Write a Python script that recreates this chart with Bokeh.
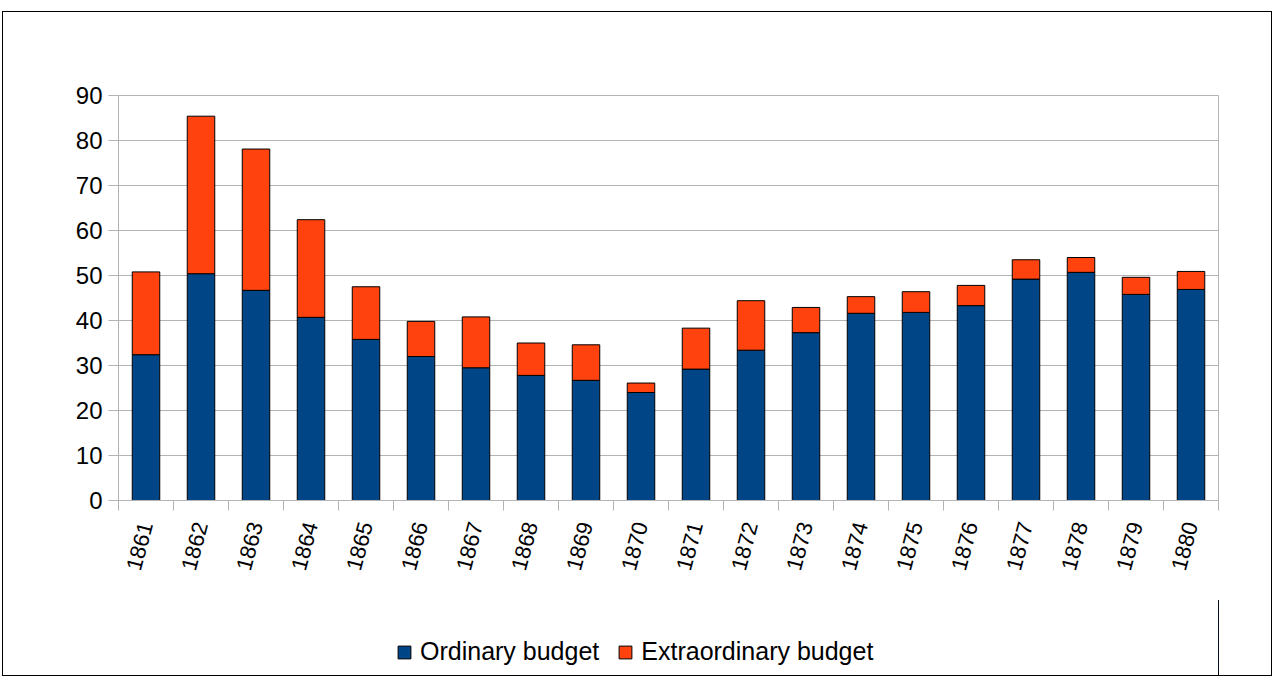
from bokeh.plotting import figure
from bokeh.layouts import column
from bokeh.models import FixedTicker, Legend, LegendItem, ColumnDataSource, Range1d
from bokeh.embed import file_html
from bokeh.resources import INLINE

years = ["1861", "1862", "1863", "1864", "1865", "1866", "1867", "1868", "1869", "1870",
         "1871", "1872", "1873", "1874", "1875", "1876", "1877", "1878", "1879", "1880"]
ordinary = [32.4, 50.4, 46.7, 40.7, 35.8, 32.0, 29.5, 27.8, 26.7, 24.0,
            29.2, 33.4, 37.3, 41.6, 41.8, 43.3, 49.2, 50.7, 45.8, 46.9]
extraordinary = [18.4, 35.0, 31.4, 21.7, 11.7, 7.8, 11.3, 7.2, 7.9, 2.1,
                 9.1, 11.0, 5.6, 3.7, 4.6, 4.5, 4.3, 3.3, 3.8, 4.0]
y_ticks = [0, 10, 20, 30, 40, 50, 60, 70, 80, 90]

BLUE = "#004586"
ORANGE = "#ff420e"
GRID = "#b3b3b3"
FONT = "Liberation Sans"

xpos = [i + 0.5 for i in range(len(years))]
totals = [o + e for o, e in zip(ordinary, extraordinary)]
src = ColumnDataSource(dict(x=xpos, ordinary=ordinary, total=totals))

p = figure(width=1268, height=588,
           output_backend="svg", toolbar_location=None,
           x_range=Range1d(0, len(years)), y_range=Range1d(0, 90),
           min_border_left=115, min_border_right=53, min_border_top=83, min_border_bottom=100)
p.outline_line_color = GRID
p.outline_line_width = 1

p.vbar(x="x", bottom=0, top="ordinary", width=0.5, source=src,
       fill_color=BLUE, line_color="black", line_width=1)
p.vbar(x="x", bottom="ordinary", top="total", width=0.5, source=src,
       fill_color=ORANGE, line_color="black", line_width=1)

p.xgrid.visible = False
p.ygrid.grid_line_color = GRID
p.ygrid.grid_line_width = 1
p.yaxis.ticker = FixedTicker(ticks=y_ticks)
p.xaxis.ticker = FixedTicker(ticks=xpos, minor_ticks=list(range(len(years) + 1)))
p.xaxis.major_label_overrides = {x: y for x, y in zip(xpos, years)}

for ax in (p.xaxis[0], p.yaxis[0]):
    ax.axis_line_color = GRID
    ax.major_label_text_font = FONT
    ax.major_label_text_color = "black"

p.yaxis.major_label_text_font_size = "24px"
p.yaxis.major_tick_line_color = GRID
p.yaxis.major_tick_out = 10
p.yaxis.major_tick_in = 0
p.yaxis.minor_tick_line_color = None
p.yaxis.major_label_standoff = 6

p.xaxis.major_label_text_font_size = "22px"
p.xaxis.major_tick_line_color = None
p.xaxis.minor_tick_line_color = GRID
p.xaxis.minor_tick_out = 10
p.xaxis.minor_tick_in = 0
p.xaxis.major_label_orientation = 1.31
p.xaxis.major_label_standoff = 12

# legend strip below the chart (its bars lie outside the visible range)
q = figure(width=1268, height=75, output_backend="svg", toolbar_location=None,
           x_range=Range1d(-3, -2), y_range=Range1d(0, 1), min_border=0)
q.axis.visible = False
q.grid.visible = False
q.outline_line_color = None
l1 = q.vbar(x="x", bottom=0, top="ordinary", width=0.5, source=src,
            fill_color=BLUE, line_color="black", line_width=1)
l2 = q.vbar(x="x", bottom="ordinary", top="total", width=0.5, source=src,
            fill_color=ORANGE, line_color="black", line_width=1)
legend = Legend(items=[LegendItem(label="Ordinary budget", renderers=[l1]),
                       LegendItem(label="Extraordinary budget", renderers=[l2])],
                orientation="horizontal", location=(278, 9),
                label_text_font=FONT, label_text_font_size="25px", label_text_color="black",
                glyph_width=16, glyph_height=16, spacing=18, label_standoff=8,
                border_line_color=None, background_fill_alpha=0, margin=0, padding=2)
q.add_layout(legend, "center")

layout = column(p, q, spacing=0)
layout.styles = {"border": "1px solid #000000", "margin-left": "2px", "margin-top": "11px"}

open("out.html", "w").write(file_html(layout, INLINE))
